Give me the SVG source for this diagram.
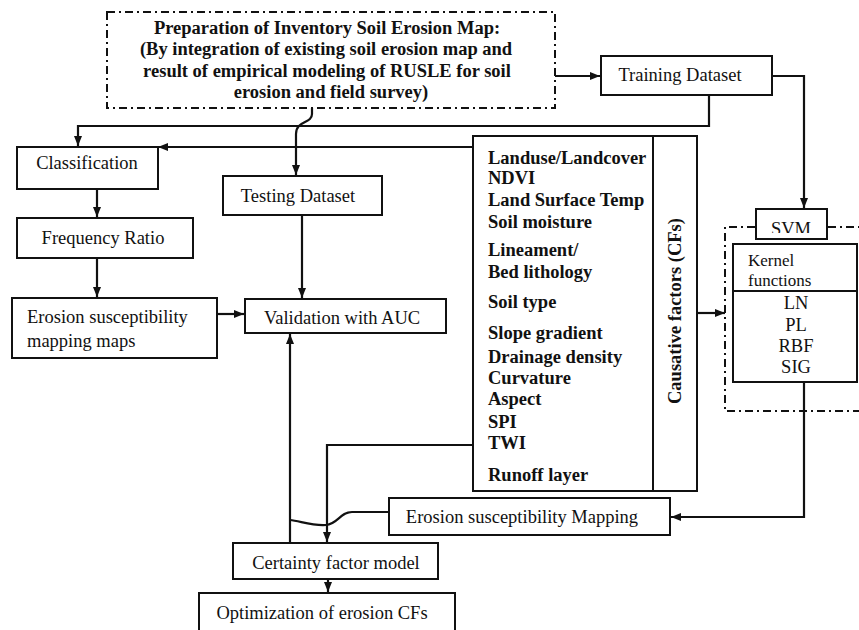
<svg xmlns="http://www.w3.org/2000/svg" width="859" height="630" viewBox="0 0 859 630">
<defs>
<style>
.box{fill:#fff;stroke:#111;stroke-width:2}
.dash{fill:none;stroke:#111;stroke-width:2;stroke-dasharray:8 4 2 4}
.t{font-family:"Liberation Serif","Times New Roman",serif;font-size:18.5px;fill:#111}
.k{font-size:17px}
.b{font-weight:bold}
.m{text-anchor:middle}
.c{fill:none;stroke:#111;stroke-width:2.2}
</style>
<marker id="ah" markerUnits="userSpaceOnUse" markerWidth="10" markerHeight="10" viewBox="0 0 10 10" refX="10" refY="5" orient="auto">
<path d="M0,1 L10,5 L0,9 Z" fill="#111"/>
</marker>
<clipPath id="svmclip"><rect x="756" y="209" width="71" height="24"/></clipPath>
</defs>
<rect width="859" height="630" fill="#fff"/>

<g id="n-inventory">
<rect x="107" y="12" width="448" height="96" class="dash"/>
<text class="t b m" x="327" y="34">Preparation of Inventory Soil Erosion Map:</text>
<text class="t b m" x="326" y="55">(By integration of existing soil erosion map and</text>
<text class="t b m" x="327" y="77">result of empirical modeling of RUSLE for soil</text>
<text class="t b m" x="331" y="98">erosion and field survey)</text>
</g>

<g id="n-training">
<rect x="601" y="56" width="171" height="39" class="box"/>
<text class="t m" x="680" y="81">Training Dataset</text>
</g>

<g id="n-classification">
<rect x="17" y="147" width="141" height="42" class="box"/>
<text class="t m" x="87" y="169">Classification</text>
</g>

<g id="n-testing">
<rect x="223" y="176" width="159" height="39" class="box"/>
<text class="t m" x="298" y="202">Testing Dataset</text>
</g>

<g id="n-fr">
<rect x="17" y="218" width="176" height="40" class="box"/>
<text class="t m" x="103" y="244">Frequency Ratio</text>
</g>

<g id="n-esmaps">
<rect x="12" y="298" width="205" height="60" class="box"/>
<text class="t" x="27" y="323">Erosion susceptibility</text>
<text class="t" x="27" y="347">mapping maps</text>
</g>

<g id="n-validation">
<rect x="245" y="299" width="201" height="34" class="box"/>
<text class="t m" x="342" y="324">Validation with AUC</text>
</g>

<g id="n-causative">
<rect x="473" y="136" width="224" height="355" class="box"/>
<line x1="653" y1="136" x2="653" y2="491" stroke="#111" stroke-width="2"/>
<text class="t b" x="488" y="164">Landuse/Landcover</text>
<text class="t b" x="488" y="184">NDVI</text>
<text class="t b" x="488" y="206">Land Surface Temp</text>
<text class="t b" x="488" y="228">Soil moisture</text>
<text class="t b" x="488" y="256">Lineament/</text>
<text class="t b" x="488" y="278">Bed lithology</text>
<text class="t b" x="488" y="308">Soil type</text>
<text class="t b" x="488" y="339">Slope gradient</text>
<text class="t b" x="488" y="363">Drainage density</text>
<text class="t b" x="488" y="384">Curvature</text>
<text class="t b" x="488" y="405">Aspect</text>
<text class="t b" x="488" y="428">SPI</text>
<text class="t b" x="488" y="449">TWI</text>
<text class="t b" x="488" y="481">Runoff layer</text>
<text class="t b m" transform="translate(681,311) rotate(-90)">Causative factors (CFs)</text>
</g>

<g id="n-svm">
<path d="M755,227 H725 V411 H859 M828,227 H859" class="dash"/>
<rect x="756" y="209" width="71" height="30" class="box"/>
<text class="t m" x="791" y="235" clip-path="url(#svmclip)">SVM</text>
</g>

<g id="n-kernel">
<rect x="733" y="244" width="124" height="138" class="box"/>
<line x1="733" y1="291" x2="857" y2="291" stroke="#111" stroke-width="2"/>
<text class="t k" x="748" y="266">Kernel</text>
<text class="t k" x="748" y="286">functions</text>
<text class="t m" x="796" y="309">LN</text>
<text class="t m" x="796" y="331">PL</text>
<text class="t m" x="796" y="352">RBF</text>
<text class="t m" x="796" y="373">SIG</text>
</g>

<g id="n-esmapping">
<rect x="389" y="498" width="281" height="37" class="box"/>
<text class="t m" x="522" y="523">Erosion susceptibility Mapping</text>
</g>

<g id="n-certainty">
<rect x="233" y="543" width="205" height="36" class="box"/>
<text class="t m" x="336" y="569">Certainty factor model</text>
</g>

<g id="n-optimization">
<rect x="199" y="593" width="256" height="42" class="box"/>
<text class="t m" x="322" y="619">Optimization of erosion CFs</text>
</g>

<g id="connectors">
<path class="c" d="M555,76 H600" marker-end="url(#ah)"/>
<path class="c" d="M709,95 V126 H78 V146" marker-end="url(#ah)"/>
<path class="c" d="M772,76 H804 V208" marker-end="url(#ah)"/>
<path class="c" d="M312,108 V114 C312,124 296,120 296,134 V175" marker-end="url(#ah)"/>
<path class="c" d="M473,147 H158" marker-end="url(#ah)"/>
<path class="c" d="M97,189 V217" marker-end="url(#ah)"/>
<path class="c" d="M97,258 V297" marker-end="url(#ah)"/>
<path class="c" d="M217,314 H244" marker-end="url(#ah)"/>
<path class="c" d="M302,215 V298" marker-end="url(#ah)"/>
<path class="c" d="M290,543 V334" marker-end="url(#ah)"/>
<path class="c" d="M473,445 H327 V542" marker-end="url(#ah)"/>
<path class="c" d="M389,512 H352 C340,512 338,524 326,525 C312,526 300,521 290,520"/>
<path class="c" d="M328,579 V592" marker-end="url(#ah)"/>
<path class="c" d="M697,313 H725" marker-end="url(#ah)"/>
<path class="c" d="M804,382 V517 H671" marker-end="url(#ah)"/>
</g>
</svg>
